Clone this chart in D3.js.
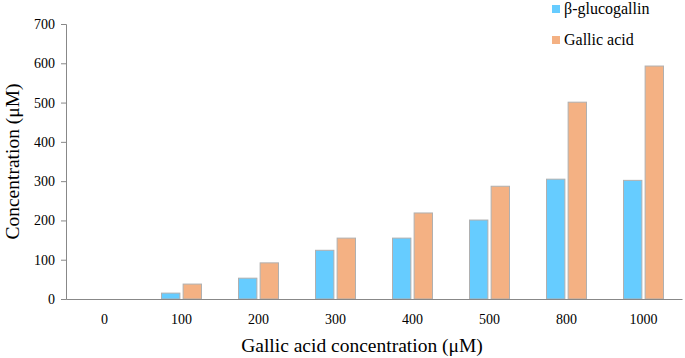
<!DOCTYPE html>
<html>
<head>
<meta charset="utf-8">
<script src="https://cdn.jsdelivr.net/npm/d3@7"></script>
<style>
  body { margin: 0; background: #fff; }
  svg text { font-family: "Liberation Serif", "Times New Roman", serif; fill: #000; }
</style>
</head>
<body>
<div id="graph"></div>
<script>
const categories = ["0", "100", "200", "300", "400", "500", "800", "1000"];
const series = ["β-glucogallin", "Gallic acid"];
const glucogallin = [0, 15, 53, 124, 155, 201, 305, 302];
const gallicAcid = [0, 38, 92, 155, 219, 287, 501, 593];
const yTicks = [0, 100, 200, 300, 400, 500, 600, 700];
const colors = ["#66ccff", "#f4b183"];

const w = 685, h = 358;
const m = { left: 66, right: 3, top: 24, bottom: 59 };
const serif = '"Liberation Serif", "Times New Roman", serif';

const svg = d3.select("#graph").append("svg").attr("width", w).attr("height", h);

const x = d3.scaleBand().domain(categories).range([m.left, w - m.right]);
const x1 = d3.scaleBand().domain(series).range([0, 40]).paddingInner(0.15);
const y = d3.scaleLinear().domain([0, 700]).range([h - m.bottom, m.top]);

const rows = categories.map((c, i) => ({ c, vals: [glucogallin[i], gallicAcid[i]] }));

svg.append("g")
  .selectAll("g")
  .data(rows)
  .enter()
  .append("g")
  .attr("transform", (d) => `translate(${x(d.c) + x.bandwidth() / 2 - 20},0)`)
  .selectAll("rect")
  .data((d) => d.vals.map((v, i) => ({ v, s: series[i], i })))
  .enter()
  .filter((d) => d.v > 0)
  .append("rect")
  .attr("x", (d) => x1(d.s))
  .attr("width", x1.bandwidth())
  .attr("y", (d) => y(d.v))
  .attr("height", (d) => y(0) - y(d.v))
  .attr("fill", (d) => colors[d.i])
  .attr("stroke", "#b0b0b0")
  .attr("stroke-width", 1);

// y axis
const yAxis = svg.append("g")
  .attr("transform", `translate(${m.left},0)`)
  .call(d3.axisLeft(y).tickValues(yTicks).tickSize(5).tickPadding(6))
  .attr("font-family", serif)
  .attr("font-size", 14);
yAxis.select(".domain").attr("stroke", "#888");
yAxis.selectAll(".tick line").attr("stroke", "#888");

// x axis
const xAxis = svg.append("g")
  .attr("transform", `translate(0,${y(0)})`)
  .call(d3.axisBottom(x).tickSize(0).tickPadding(15))
  .attr("font-family", serif)
  .attr("font-size", 14);
xAxis.select(".domain").attr("stroke", "#888");

// axis titles
svg.append("text")
  .attr("x", 362)
  .attr("y", 352)
  .attr("text-anchor", "middle")
  .style("font-size", "19.5px")
  .text("Gallic acid concentration (μM)");

svg.append("text")
  .attr("transform", `translate(19,${(m.top + h - m.bottom) / 2}) rotate(-90)`)
  .attr("text-anchor", "middle")
  .style("font-size", "19.5px")
  .text("Concentration (μM)");

// legend
const legend = svg.append("g").attr("transform", "translate(552,2)");
const item = legend.selectAll("g")
  .data(series)
  .enter()
  .append("g")
  .attr("transform", (d, i) => `translate(0,${i * 31})`);
item.append("rect")
  .attr("width", 8)
  .attr("height", 8)
  .attr("y", 3)
  .attr("fill", (d, i) => colors[i]);
item.append("text")
  .attr("x", 12)
  .attr("y", 12)
  .style("font-size", "16px")
  .text((d) => d);
</script>
</body>
</html>
